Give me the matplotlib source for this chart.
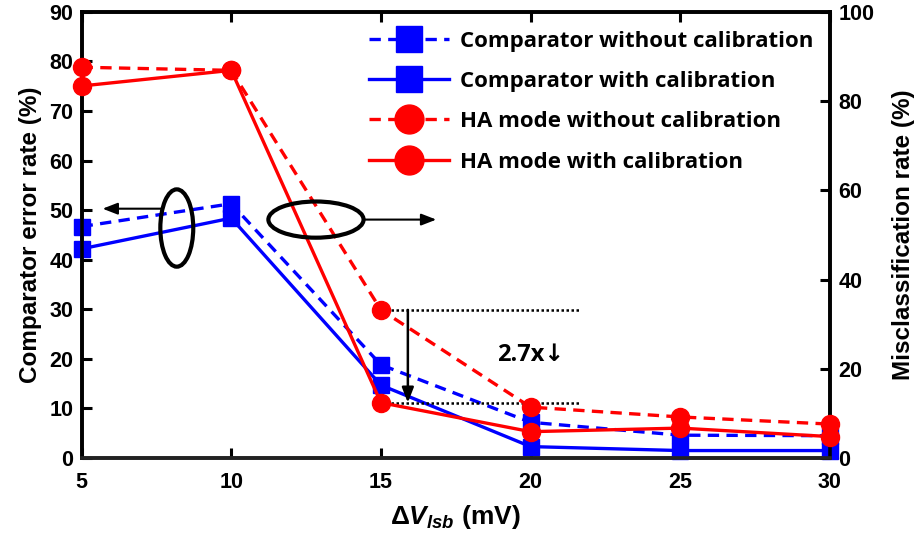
import matplotlib
matplotlib.use("Agg")
import matplotlib.pyplot as plt
from matplotlib.patches import Ellipse

# data
dv_lsb = [5, 10, 15, 20, 25, 30]
comp_no_cal = [46.7, 51.3, 18.8, 7.2, 4.6, 4.5]   # left axis (%)
comp_cal = [42.2, 48.4, 14.7, 2.3, 1.5, 1.5]      # left axis (%)
ha_no_cal = [87.6, 86.9, 33.2, 11.4, 9.2, 7.6]    # right axis (%)
ha_cal = [83.4, 86.9, 12.4, 5.9, 6.7, 4.8]        # right axis (%)

labels = [
    "Comparator without calibration",
    "Comparator with calibration",
    "HA mode without calibration",
    "HA mode with calibration",
]
reduction_text = "2.7x\u2193"

ARIAL = ["Liberation Sans", "DejaVu Sans"]
BODY = ["Open Sans", "DejaVu Sans"]
BLUE = "#0000ff"
RED = "#ff0000"

plt.rcParams["mathtext.fontset"] = "custom"
plt.rcParams["mathtext.it"] = "Liberation Sans:italic:bold"
plt.rcParams["mathtext.rm"] = "Liberation Sans:bold"

fig = plt.figure(figsize=(9.17, 5.42), dpi=100)
ax = fig.add_axes([0.089, 0.155, 0.816, 0.823])
ax2 = ax.twinx()

lw = 2.4
dash = (0, (3.4, 2.2))
h1, = ax.plot(dv_lsb, comp_no_cal, color=BLUE, lw=lw, ls=dash, marker="s",
              ms=11.5, clip_on=False, zorder=4)
h2, = ax.plot(dv_lsb, comp_cal, color=BLUE, lw=lw, ls="-", marker="s",
              ms=11.5, clip_on=False, zorder=4)
h3, = ax2.plot(dv_lsb, ha_no_cal, color=RED, lw=lw, ls=dash, marker="o",
               ms=13, clip_on=False, zorder=4)
h4, = ax2.plot(dv_lsb, ha_cal, color=RED, lw=lw, ls="-", marker="o",
               ms=13, clip_on=False, zorder=4)

ax.set_xlim(5, 30)
ax.set_ylim(0, 90)
ax2.set_ylim(0, 100)
ax.set_xticks(dv_lsb)
ax.set_yticks(range(0, 91, 10))
ax2.set_yticks(range(0, 101, 20))

for a in (ax, ax2):
    for s in a.spines.values():
        s.set_linewidth(2.6)
        s.set_color("black")
    a.spines["bottom"].set_color("#222222")
ax.tick_params(axis="x", direction="in", length=7, width=2.2, top=True,
               pad=10, labelsize=15.5)
ax.tick_params(axis="y", direction="in", length=7, width=2.2, pad=6, labelsize=15.5)
ax2.tick_params(axis="y", direction="in", length=7, width=2.2, pad=6, labelsize=15.5)
for lab in ax.get_xticklabels() + ax.get_yticklabels() + ax2.get_yticklabels():
    lab.set_family(ARIAL)
    lab.set_fontweight("bold")

ax.set_ylabel("Comparator error rate (%)", family=ARIAL, fontweight="bold",
              fontsize=17.5, labelpad=5)
ax2.set_ylabel("Misclassification rate (%)", family=ARIAL, fontweight="bold",
               fontsize=17.5, labelpad=13)
ax.set_xlabel(r"$\mathit{\Delta V}_{\mathit{lsb}}$ (mV)", family=ARIAL,
              fontweight="bold", fontsize=19, labelpad=7)

# calibration reduction annotation (right axis units)
x_end = 21.7
dots = (0, (1.0, 1.0))
ax2.plot([15, x_end], [ha_no_cal[2], ha_no_cal[2]], color="black", ls=dots,
         lw=1.8, zorder=3)
ax2.plot([15, x_end], [ha_cal[2], ha_cal[2]], color="black", ls=dots,
         lw=1.8, zorder=3)
ax2.annotate("", xy=(15.9, ha_cal[2]), xytext=(15.9, ha_no_cal[2]),
             arrowprops=dict(arrowstyle="-|>,head_length=0.9,head_width=0.35",
                             color="black", lw=1.8, shrinkA=0, shrinkB=0))
ax2.text(20.0, 23.0, reduction_text, family=BODY, fontweight="bold", fontsize=17,
         ha="center", va="center")

# axis indicator ellipses (left axis units converted to right axis)
k = 100 / 90
ax2.add_patch(Ellipse((8.18, 46.4 * k), 1.1, 15.6 * k, fill=False,
                      ec="black", lw=3.0, zorder=5))
ax2.annotate("", xy=(5.7, 50.3 * k), xytext=(7.72, 50.3 * k),
             arrowprops=dict(arrowstyle="-|>,head_length=0.9,head_width=0.35",
                             color="black", lw=1.5, shrinkA=0, shrinkB=0))
ax2.add_patch(Ellipse((12.83, 48.1 * k), 3.18, 7.3 * k, fill=False,
                      ec="black", lw=3.0, zorder=5))
ax2.annotate("", xy=(16.85, 48.1 * k), xytext=(14.42, 48.1 * k),
             arrowprops=dict(arrowstyle="-|>,head_length=0.9,head_width=0.35",
                             color="black", lw=1.5, shrinkA=0, shrinkB=0))

leg = ax2.legend([h1, h2, h3, h4], labels, loc="upper right",
                 bbox_to_anchor=(1.005, 1.003), frameon=False, numpoints=1,
                 handlelength=3.6, handletextpad=0.5, labelspacing=0.87,
                 markerscale=1.6, prop=dict(family=BODY, weight="bold", size=16))

fig.savefig("out.png", dpi=100)
